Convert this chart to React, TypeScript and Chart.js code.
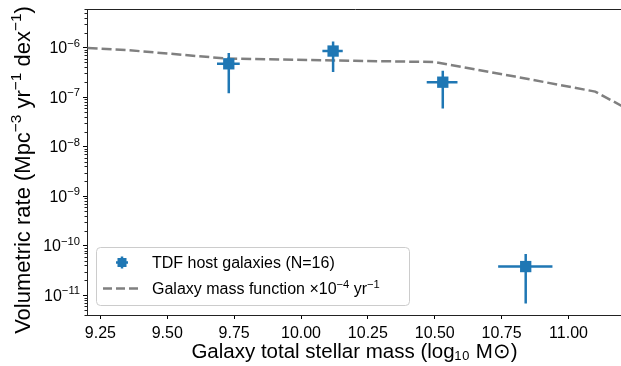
import React, { useEffect, useRef } from 'react';
import { Chart, registerables } from 'chart.js';

Chart.register(...registerables);

// ---- data ----
const hostMass = [9.73, 10.12, 10.53, 10.84];
const hostRate = [4.7e-7, 8.5e-7, 2.0e-7, 3.8e-11];
const hostRateLow = [1.19e-7, 3.2e-7, 5.9e-8, 6.8e-12];
const hostRateHigh = [7.8e-7, 1.32e-6, 3.4e-7, 6.8e-11];
const hostMassLow = [9.686, 10.08, 10.47, 10.737];
const hostMassHigh = [9.771, 10.156, 10.585, 10.94];

const gmfMass = [9.15, 9.35, 9.72, 10.2, 10.5, 10.8, 11.1, 11.25];
const gmfRate = [1.02e-6, 8.9e-7, 6.0e-7, 5.4e-7, 5.1e-7, 2.6e-7, 1.29e-7, 4.7e-8];

const xTicks = [9.25, 9.5, 9.75, 10.0, 10.25, 10.5, 10.75, 11.0];
const yMajorExps = [-11, -10, -9, -8, -7, -6];
const xMin = 9.2;
const xMax = 11.2;
const yMin = 4e-12;
const yMax = 6e-6;

const hostLabel = 'TDF host galaxies (N=16)';
const gmfLabelParts = ['Galaxy mass function ×10', '−4', ' yr', '−1'];
const gmfLabel = 'Galaxy mass function ×10⁻⁴ yr⁻¹';
const xTitle = 'Galaxy total stellar mass (log₁₀ M⊙)';
const yTitleParts = ['Volumetric rate (Mpc', '−3', ' yr', '−1', ' dex', '−1', ')'];

const BLUE = '#1f77b4';
const GRAY = '#808080';
const FONT = "'Liberation Sans', Arial, Helvetica, sans-serif";

const isPow10 = (v: number) => {
  const e = Math.round(Math.log10(v));
  return Math.abs(v / Math.pow(10, e) - 1) < 1e-6;
};

const yTickValues: number[] = [];
for (let e = Math.min(...yMajorExps) - 1; e <= Math.max(...yMajorExps); e++) {
  for (let m = 1; m <= 9; m++) {
    const v = m * Math.pow(10, e);
    if (v >= yMin * 0.999 && v <= yMax * 1.001) yTickValues.push(v);
  }
}

// draws text segments, odd-indexed segments as superscripts
const drawSupText = (
  ctx: CanvasRenderingContext2D,
  parts: string[],
  x: number,
  yMid: number,
  size: number,
  align: 'left' | 'right' | 'center',
) => {
  const supSize = size * 0.7;
  const widths = parts.map((p, i) => {
    ctx.font = `${i % 2 ? supSize : size}px ${FONT}`;
    return ctx.measureText(p).width;
  });
  const total = widths.reduce((a, b) => a + b, 0);
  let cx = align === 'right' ? x - total : align === 'center' ? x - total / 2 : x;
  const base = yMid + size * 0.36;
  ctx.textAlign = 'left';
  ctx.textBaseline = 'alphabetic';
  parts.forEach((p, i) => {
    ctx.font = `${i % 2 ? supSize : size}px ${FONT}`;
    ctx.fillText(p, cx, i % 2 ? base - size * 0.42 : base);
    cx += widths[i];
  });
  return cx;
};

const errorBarPlugin = {
  id: 'errorBars',
  afterDatasetDraw(chart: any, args: any) {
    if (args.index !== 1) return;
    const { ctx, chartArea } = chart;
    const xs = chart.scales.x;
    const ys = chart.scales.y;
    ctx.save();
    ctx.beginPath();
    ctx.rect(chartArea.left, chartArea.top, chartArea.right - chartArea.left, chartArea.bottom - chartArea.top);
    ctx.clip();
    ctx.strokeStyle = BLUE;
    ctx.lineWidth = 2.5;
    ctx.lineCap = 'butt';
    for (let i = 0; i < hostMass.length; i++) {
      const px = xs.getPixelForValue(hostMass[i]);
      const py = ys.getPixelForValue(hostRate[i]);
      ctx.beginPath();
      ctx.moveTo(px, ys.getPixelForValue(hostRateLow[i]));
      ctx.lineTo(px, ys.getPixelForValue(hostRateHigh[i]));
      ctx.moveTo(xs.getPixelForValue(hostMassLow[i]), py);
      ctx.lineTo(xs.getPixelForValue(hostMassHigh[i]), py);
      ctx.stroke();
    }
    ctx.restore();
  },
};

const framePlugin = {
  id: 'frame',
  afterDraw(chart: any) {
    const { ctx, chartArea } = chart;
    const ys = chart.scales.y;
    ctx.save();
    // top spine
    ctx.strokeStyle = '#222';
    ctx.lineWidth = 1;
    ctx.beginPath();
    const ty = Math.round(chartArea.top) + 0.5;
    ctx.moveTo(chartArea.left, ty);
    ctx.lineTo(chartArea.right + 2, ty);
    ctx.stroke();
    // minor y ticks
    ctx.beginPath();
    for (const v of yTickValues) {
      if (isPow10(v)) continue;
      const py = Math.round(ys.getPixelForValue(v)) + 0.5;
      ctx.moveTo(chartArea.left - 2.5, py);
      ctx.lineTo(chartArea.left, py);
    }
    ctx.stroke();
    // major y tick labels with superscript exponents
    ctx.fillStyle = '#000';
    for (const e of yMajorExps) {
      const py = ys.getPixelForValue(Math.pow(10, e));
      drawSupText(ctx, ['10', '−' + Math.abs(e)], chartArea.left - 7, py, 16, 'right');
    }
    // y axis title (rotated, with superscripts)
    ctx.save();
    ctx.translate(22, 170);
    ctx.rotate(-Math.PI / 2);
    drawSupText(ctx, yTitleParts, 0, 0, 22, 'center');
    ctx.restore();

    // legend
    const bx = 96.5, by = 247.5, bw = 313, bh = 58;
    ctx.beginPath();
    (ctx as any).roundRect(bx, by, bw, bh, 4);
    ctx.fillStyle = 'rgba(255,255,255,0.85)';
    ctx.fill();
    ctx.strokeStyle = '#cccccc';
    ctx.lineWidth = 1;
    ctx.stroke();

    const r1 = 262.5, r2 = 288.5;
    const mx = 122;
    ctx.strokeStyle = BLUE;
    ctx.lineWidth = 2.5;
    ctx.beginPath();
    ctx.moveTo(mx, r1 - 6);
    ctx.lineTo(mx, r1 + 6);
    ctx.moveTo(mx - 6, r1);
    ctx.lineTo(mx + 6, r1);
    ctx.stroke();
    ctx.fillStyle = BLUE;
    ctx.fillRect(mx - 4.5, r1 - 4.5, 9, 9);
    ctx.strokeStyle = GRAY;
    ctx.setLineDash([9, 4]);
    ctx.beginPath();
    ctx.moveTo(103, r2);
    ctx.lineTo(138, r2);
    ctx.stroke();
    ctx.setLineDash([]);
    ctx.fillStyle = '#000';
    drawSupText(ctx, [hostLabel], 152, r1, 16, 'left');
    drawSupText(ctx, gmfLabelParts, 152, r2, 16, 'left');
    ctx.restore();
  },
};

export default function App() {
  const ref = useRef<HTMLCanvasElement>(null);

  useEffect(() => {
    if (!ref.current) return;
    Chart.defaults.font.family = FONT;
    const zeroPad = (s: any) => {
      s.paddingTop = 0;
      s.paddingBottom = 0;
      s.paddingLeft = 0;
      s.paddingRight = 0;
    };
    const chart = new Chart(ref.current, {
      type: 'scatter',
      data: {
        datasets: [
          {
            label: hostLabel,
            data: hostMass.map((x, i) => ({ x, y: hostRate[i] })),
            pointStyle: 'rect',
            pointRadius: 8,
            pointHoverRadius: 8,
            backgroundColor: BLUE,
            borderWidth: 0,
            showLine: false,
          },
          {
            label: gmfLabel,
            data: gmfMass.map((x, i) => ({ x, y: gmfRate[i] })),
            showLine: true,
            borderColor: GRAY,
            borderWidth: 2.5,
            borderDash: [10, 4],
            pointRadius: 0,
            pointHoverRadius: 0,
            tension: 0,
            fill: false,
          },
        ],
      },
      options: {
        responsive: false,
        animation: false,
        devicePixelRatio: 1,
        events: [],
        layout: { autoPadding: false, padding: { top: 9, right: 1, left: 0, bottom: 0 } },
        plugins: { legend: { display: false }, tooltip: { enabled: false } },
        scales: {
          x: {
            type: 'linear',
            min: xMin,
            max: xMax,
            afterFit: (s: any) => { s.height = 51; zeroPad(s); },
            afterBuildTicks: (s: any) => { s.ticks = xTicks.map((v) => ({ value: v })); },
            ticks: {
              color: '#000',
              font: { size: 16 },
              padding: 5,
              maxRotation: 0,
              autoSkip: false,
              callback: (v: any) => Number(v).toFixed(2),
            },
            grid: { display: true, drawOnChartArea: false, drawTicks: true, tickLength: 4, tickColor: '#000', tickWidth: 1 },
            border: { display: true, color: '#222', width: 1 },
            title: { display: true, text: xTitle, color: '#000', font: { size: 20.5 }, padding: { top: 0, bottom: 1 } },
          },
          y: {
            type: 'logarithmic',
            min: yMin,
            max: yMax,
            afterFit: (s: any) => { s.width = 87; zeroPad(s); },
            afterBuildTicks: (s: any) => { s.ticks = yTickValues.map((v) => ({ value: v, major: isPow10(v) })); },
            ticks: {
              color: '#000',
              font: { size: 16 },
              padding: 3,
              autoSkip: false,
              callback: () => '',
            },
            grid: {
              display: true,
              drawOnChartArea: false,
              drawTicks: true,
              tickLength: 4,
              tickWidth: 1,
              tickColor: (c: any) => (c.tick && c.tick.major ? '#000' : 'rgba(0,0,0,0)'),
            },
            border: { display: true, color: '#222', width: 1 },
            title: { display: false },
          },
        },
      },
      plugins: [errorBarPlugin, framePlugin],
    } as any);
    return () => chart.destroy();
  }, []);

  return (
    <div style={{ position: 'fixed', left: 0, top: 0, width: 621, height: 366, overflow: 'hidden', background: '#fff' }}>
      <canvas ref={ref} width={623} height={366} style={{ width: 623, height: 366, display: 'block' }} />
    </div>
  );
}
